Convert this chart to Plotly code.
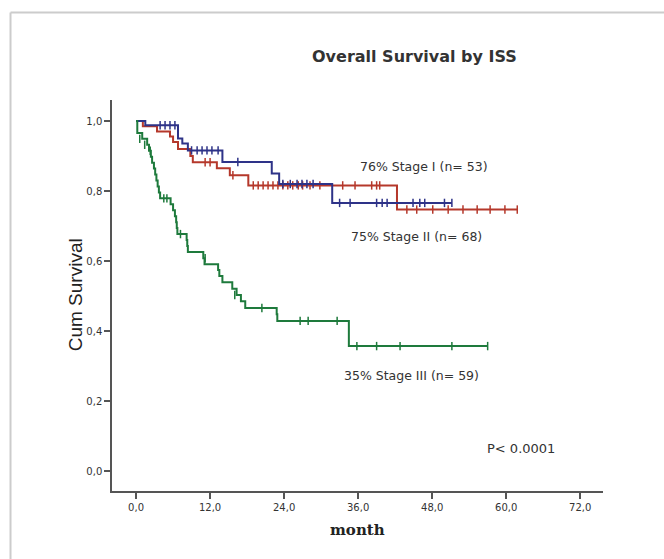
import plotly.graph_objects as go

# ---- data ----
# Stage I (blue)
s1_times = [0, 1.5, 6.8, 7.5, 8.4, 14.0, 22.0, 23.2, 31.8, 51.2]
s1_surv = [1.0, 0.988, 0.95, 0.936, 0.916, 0.883, 0.85, 0.82, 0.766, 0.766]
s1_cens_t = [3.9, 4.7, 5.5, 6.3, 9.0, 9.9, 10.7, 11.5, 12.3, 13.3, 16.5, 23.8, 25.0, 26.1, 26.9, 27.7, 28.7,
             33.0, 34.7, 39.0, 39.9, 40.7, 44.9, 46.0, 46.8, 50.0, 51.2]
s1_cens_s = [0.988, 0.988, 0.988, 0.988, 0.916, 0.916, 0.916, 0.916, 0.916, 0.916, 0.883, 0.82, 0.82, 0.82, 0.82, 0.82, 0.82,
             0.766, 0.766, 0.766, 0.766, 0.766, 0.766, 0.766, 0.766, 0.766, 0.766]

# Stage II (red)
s2_times = [0, 1.1, 3.4, 5.5, 6.0, 6.8, 8.8, 9.2, 13.1, 15.2, 18.2, 42.3, 61.8]
s2_surv = [1.0, 0.985, 0.97, 0.956, 0.94, 0.92, 0.9, 0.882, 0.865, 0.845, 0.816, 0.747, 0.747]
s2_cens_t = [11.2, 12.0, 15.7, 19.0, 19.8, 20.6, 21.4, 22.2, 23.0, 23.8, 24.6, 25.4, 26.3, 27.0, 28.2,
             29.8, 33.5, 35.5, 38.2, 39.0, 39.5, 43.9, 45.5, 48.1, 50.6, 53.0, 55.3, 57.4, 59.8, 61.8]
s2_cens_s = [0.882, 0.882, 0.845, 0.816, 0.816, 0.816, 0.816, 0.816, 0.816, 0.816, 0.816, 0.816, 0.816, 0.816, 0.816,
             0.816, 0.816, 0.816, 0.816, 0.816, 0.816, 0.747, 0.747, 0.747, 0.747, 0.747, 0.747, 0.747, 0.747, 0.747]

# Stage III (green)
s3_times = [0, 0.2, 1.0, 1.8, 2.1, 2.4, 2.6, 2.9, 3.1, 3.3, 3.5, 3.7, 3.9, 5.6, 6.0, 6.3, 6.5, 6.6, 6.7,
            8.2, 8.3, 8.4, 10.9, 11.1, 13.3, 13.5, 14.0, 15.6, 16.3, 17.0, 17.7, 22.8, 22.9, 34.5, 57.0]
s3_surv = [1.0, 0.966, 0.949, 0.932, 0.915, 0.898, 0.881, 0.864, 0.847, 0.83, 0.813, 0.796, 0.779, 0.762, 0.745,
           0.728, 0.711, 0.694, 0.677, 0.66, 0.643, 0.626, 0.608, 0.591, 0.574, 0.557, 0.539, 0.521, 0.503, 0.485,
           0.466, 0.448, 0.429, 0.357, 0.357]
s3_cens_t = [0.6, 1.4, 2.3, 4.5, 5.0, 7.2, 11.2, 16.0, 20.4, 26.6, 27.9, 32.6, 35.8, 39.0, 42.8, 51.2, 57.0]
s3_cens_s = [0.949, 0.932, 0.915, 0.779, 0.779, 0.677, 0.608, 0.503, 0.466, 0.429, 0.429, 0.429, 0.357, 0.357, 0.357, 0.357, 0.357]

x_ticks = [0, 12, 24, 36, 48, 60, 72]
x_tick_labels = ["0,0", "12,0", "24,0", "36,0", "48,0", "60,0", "72,0"]
y_ticks = [0, 0.2, 0.4, 0.6, 0.8, 1.0]
y_tick_labels = ["0,0", "0,2", "0,4", "0,6", "0,8", "1,0"]

labels = ["76% Stage I (n= 53)", "75% Stage II (n= 68)", "35% Stage III (n= 59)"]
label_pos_t = [46.7, 45.4, 44.6]
label_pos_s = [0.871, 0.671, 0.273]

BLUE = "#2e3388"
RED = "#b5382b"
GREEN = "#1e7a3c"

fig = go.Figure()
for t, s, ct, cs, col in [
    (s2_times, s2_surv, s2_cens_t, s2_cens_s, RED),
    (s1_times, s1_surv, s1_cens_t, s1_cens_s, BLUE),
    (s3_times, s3_surv, s3_cens_t, s3_cens_s, GREEN),
]:
    fig.add_trace(go.Scatter(x=t, y=s, mode="lines", line=dict(color=col, width=2, shape="hv"),
                             showlegend=False, hoverinfo="skip"))
    fig.add_trace(go.Scatter(x=ct, y=cs, mode="markers",
                             marker=dict(symbol="line-ns-open", size=6, color=col, line=dict(color=col, width=1.5)),
                             showlegend=False, hoverinfo="skip"))

tick_font = dict(family="DejaVu Sans", size=10, color="#333333")
fig.update_xaxes(range=[-3.9, 75.7], tickvals=x_ticks, ticktext=x_tick_labels, showgrid=False, zeroline=False,
                 showline=True, linecolor="#555555", linewidth=1.5, ticks="outside", ticklen=6,
                 tickcolor="#555555", tickwidth=1.5, tickfont=tick_font)
fig.update_yaxes(range=[-0.057, 1.06], tickvals=y_ticks, ticktext=y_tick_labels, showgrid=False, zeroline=False,
                 showline=True, linecolor="#555555", linewidth=1.5, ticks="outside", ticklen=6,
                 tickcolor="#555555", tickwidth=1.5, tickfont=tick_font)

ann = []
for txt, tx, sy in zip(labels, label_pos_t, label_pos_s):
    ann.append(dict(x=tx, y=sy, xref="x", yref="y", text=txt, showarrow=False,
                    font=dict(family="DejaVu Sans", size=12.5, color="#333333")))
ann.append(dict(x=62.4, y=0.065, xref="x", yref="y", text="P< 0.0001", showarrow=False,
                font=dict(family="DejaVu Sans", size=13, color="#333333")))
ann.append(dict(x=0.617, y=1.11, xref="paper", yref="paper", text="<b>Overall Survival by ISS</b>",
                xanchor="center", yanchor="middle",
                showarrow=False, font=dict(family="DejaVu Sans", size=16, color="#333333")))
ann.append(dict(x=-0.075, y=0.501, xref="paper", yref="paper", text="Cum Survival", textangle=-90,
                xanchor="center", yanchor="middle",
                showarrow=False, font=dict(family="Liberation Sans Narrow, Liberation Sans", size=19, color="#222222")))
ann.append(dict(x=0.499, y=-0.1, xref="paper", yref="paper", text="<b>month</b>",
                xanchor="center", yanchor="middle",
                showarrow=False, font=dict(family="DejaVu Serif", size=15, color="#222222")))

shapes = [
    dict(type="line", xref="paper", yref="paper", x0=-0.2067, x1=1.2, y0=1.2238, y1=1.2238,
         line=dict(color="#cccccc", width=2)),
    dict(type="line", xref="paper", yref="paper", x0=-0.2067, x1=-0.2067, y0=1.2238, y1=-0.2,
         line=dict(color="#cccccc", width=2)),
]

fig.update_layout(width=664, height=559, margin=dict(l=112, r=61, t=100, b=68),
                  plot_bgcolor="white", paper_bgcolor="white", annotations=ann, shapes=shapes)

fig.write_html("out.html", post_script="document.body.style.margin='0';",
               config={"displayModeBar": False})
